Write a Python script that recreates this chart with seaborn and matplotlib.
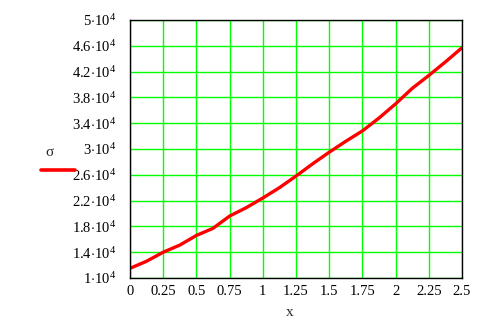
import matplotlib
matplotlib.use("Agg")
import matplotlib.pyplot as plt
from matplotlib.lines import Line2D
import seaborn as sns
import pandas as pd

x_values = [0, 0.125, 0.25, 0.375, 0.5, 0.625, 0.75, 0.875, 1.0, 1.125, 1.25,
            1.375, 1.5, 1.625, 1.75, 1.875, 2.0, 2.125, 2.25, 2.375, 2.5]
sigma_values = [1.15e4, 1.26e4, 1.40e4, 1.51e4, 1.66e4, 1.77e4, 1.96e4, 2.09e4,
                2.24e4, 2.40e4, 2.58e4, 2.77e4, 2.95e4, 3.12e4, 3.28e4, 3.48e4,
                3.70e4, 3.94e4, 4.14e4, 4.35e4, 4.57e4]
x_ticks = [0, 0.25, 0.5, 0.75, 1, 1.25, 1.5, 1.75, 2, 2.25, 2.5]
x_tick_labels = ["0", "0.25", "0.5", "0.75", "1", "1.25", "1.5", "1.75", "2", "2.25", "2.5"]
y_ticks = [1e4, 1.4e4, 1.8e4, 2.2e4, 2.6e4, 3e4, 3.4e4, 3.8e4, 4.2e4, 4.6e4, 5e4]
y_tick_labels = [r"1$\cdot$10$^{4}$", r"1.4$\cdot$10$^{4}$", r"1.8$\cdot$10$^{4}$",
                 r"2.2$\cdot$10$^{4}$", r"2.6$\cdot$10$^{4}$", r"3$\cdot$10$^{4}$",
                 r"3.4$\cdot$10$^{4}$", r"3.8$\cdot$10$^{4}$", r"4.2$\cdot$10$^{4}$",
                 r"4.6$\cdot$10$^{4}$", r"5$\cdot$10$^{4}$"]

sns.set_theme(style="white")
plt.rcParams['font.family'] = ['Liberation Serif', 'DejaVu Serif']
plt.rcParams['mathtext.fontset'] = 'custom'
plt.rcParams['mathtext.rm'] = 'Liberation Serif'
plt.rcParams['mathtext.it'] = 'Liberation Serif'
plt.rcParams['mathtext.bf'] = 'Liberation Serif'

df = pd.DataFrame({"x": x_values, "sigma": sigma_values})

fig = plt.figure(figsize=(4.94, 3.21), dpi=100)
ax = fig.add_axes([130/494, 1-278/321, 332/494, 258/321])

ax.set_xlim(0, 2.5)
ax.set_ylim(1e4, 5e4)
ax.set_xticks(x_ticks)
ax.set_xticklabels(x_tick_labels)
ax.set_yticks(y_ticks)
ax.set_yticklabels(y_tick_labels)
ax.grid(True, color="#00ff00", linewidth=1.0, zorder=0)
ax.set_axisbelow(True)

sns.lineplot(data=df, x="x", y="sigma", ax=ax, color="#ff0000", linewidth=2.4, zorder=3)

for s in ax.spines.values():
    s.set_color("black")
    s.set_linewidth(1.0)
    s.set_zorder(4)

ax.tick_params(axis="both", length=0, labelsize=10.5, colors="black")
ax.tick_params(axis="y", pad=10)
ax.tick_params(axis="x", pad=5)
for lbl in ax.get_yticklabels():
    lbl.set_verticalalignment("center_baseline")

ax.set_xlabel("")
ax.set_ylabel("")
fig.text(290/494, 1-313/321, "x", ha="center", va="center", fontsize=11)
fig.text(49/494, 1-153/321, "σ", ha="center", va="center", fontsize=11)
fig.add_artist(Line2D([41/494, 75/494], [1-169.5/321, 1-169.5/321],
                      transform=fig.transFigure, color="#ff0000", linewidth=2.6))

fig.savefig("out.png", dpi=100)
